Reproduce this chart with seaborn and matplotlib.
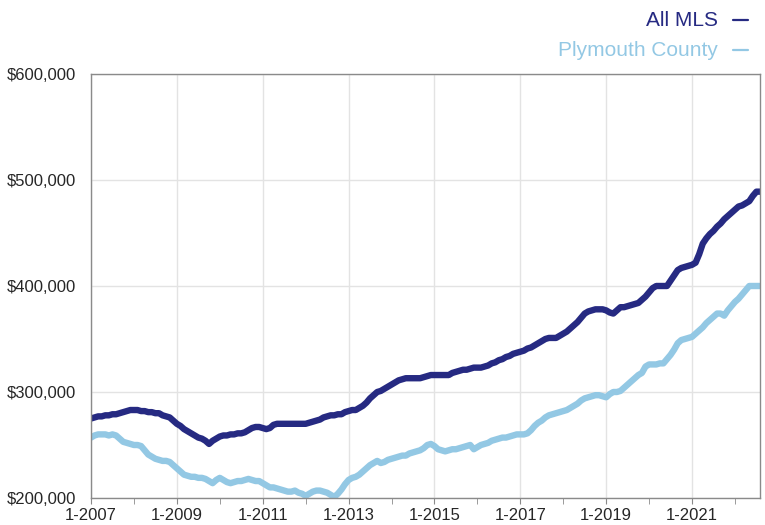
import numpy as np
import pandas as pd
import matplotlib
matplotlib.use("Agg")
import matplotlib.pyplot as plt
from matplotlib.lines import Line2D
import seaborn as sns

# Monthly median prices (thousands of $), Jan 2007 .. Aug 2022
all_mls = [275, 276, 277, 277, 278, 278, 279, 279, 280, 281, 282, 283, 283, 283, 282, 282, 281, 281, 280, 280,
           278, 277, 276, 273, 270, 268, 265, 263, 261, 259, 257, 256, 254, 251, 254, 256, 258, 259, 259, 260,
           260, 261, 261, 262, 264, 266, 267, 267, 266, 265, 266, 269, 270, 270, 270, 270, 270, 270, 270, 270,
           270, 271, 272, 273, 274, 276, 277, 278, 278, 279, 279, 281, 282, 283, 283, 285, 287, 290, 294, 297,
           300, 301, 303, 305, 307, 309, 311, 312, 313, 313, 313, 313, 313, 314, 315, 316, 316, 316, 316, 316,
           316, 318, 319, 320, 321, 321, 322, 323, 323, 323, 324, 325, 327, 328, 330, 331, 333, 334, 336, 337,
           338, 339, 341, 342, 344, 346, 348, 350, 351, 351, 351, 353, 355, 357, 360, 363, 366, 370, 374, 376,
           377, 378, 378, 378, 377, 375, 374, 377, 380, 380, 381, 382, 383, 384, 387, 390, 394, 398, 400, 400,
           400, 400, 405, 410, 415, 417, 418, 419, 420, 422, 430, 440, 445, 449, 452, 456, 459, 463, 466, 469,
           472, 475, 476, 478, 480, 485, 489, 489]
plymouth = [257, 259, 260, 260, 260, 259, 260, 259, 256, 253, 252, 251, 250, 250, 249, 245, 241, 239, 237, 236,
            235, 235, 234, 231, 228, 225, 222, 221, 220, 220, 219, 219, 218, 216, 214, 217, 219, 217, 215, 214,
            215, 216, 216, 217, 218, 217, 216, 216, 214, 212, 210, 210, 209, 208, 207, 206, 206, 207, 205, 204,
            202, 204, 206, 207, 207, 206, 205, 203, 201, 204, 208, 213, 217, 219, 220, 222, 225, 228, 231, 233,
            235, 233, 234, 236, 237, 238, 239, 240, 240, 242, 243, 244, 245, 247, 250, 251, 249, 246, 245, 244,
            245, 246, 246, 247, 248, 249, 250, 246, 248, 250, 251, 252, 254, 255, 256, 257, 257, 258, 259, 260,
            260, 260, 261, 264, 268, 271, 273, 276, 278, 279, 280, 281, 282, 283, 285, 287, 289, 292, 294, 295,
            296, 297, 297, 296, 295, 298, 300, 300, 301, 304, 307, 310, 313, 316, 318, 324, 326, 326, 326, 327,
            327, 331, 335, 340, 346, 349, 350, 351, 352, 355, 358, 361, 365, 368, 371, 374, 374, 372, 377, 381,
            385, 388, 392, 396, 400, 400, 400, 400]

series_names = ["All MLS", "Plymouth County"]
x_tick_labels = ["1-2007", "1-2009", "1-2011", "1-2013", "1-2015", "1-2017", "1-2019", "1-2021"]
y_ticks = [200000, 300000, 400000, 500000, 600000]
y_tick_labels = ["$200,000", "$300,000", "$400,000", "$500,000", "$600,000"]

colors = {"All MLS": "#262a82", "Plymouth County": "#93c8e4"}

n = len(all_mls)
df = pd.DataFrame({
    "month": list(range(n)) * 2,
    "price": [v * 1000 for v in all_mls] + [v * 1000 for v in plymouth],
    "series": [series_names[0]] * n + [series_names[1]] * n,
})

sns.set_style("white")
plt.rcParams["font.family"] = ["Liberation Sans", "DejaVu Sans"]

W, H = 765, 525
fig = plt.figure(figsize=(W / 100, H / 100), dpi=100)
ax = fig.add_axes([91 / W, 27 / H, 669 / W, 424 / H])

sns.lineplot(data=df, x="month", y="price", hue="series", palette=colors,
             hue_order=series_names[::-1], linewidth=4.6, ax=ax, legend=False,
             solid_capstyle="round", solid_joinstyle="round")

ax.set_xlim(0, n - 1)
ax.set_ylim(200000, 600000)
ax.set_xticks([24 * i for i in range(len(x_tick_labels))])
ax.set_xticklabels(x_tick_labels)
ax.set_xticks([12 + 24 * i for i in range(8)], minor=True)
ax.set_yticks(y_ticks)
ax.set_yticklabels(y_tick_labels)
ax.set_xlabel("")
ax.set_ylabel("")
ax.grid(True, which="major", color="#e3e3e3", linewidth=1.0)
ax.set_axisbelow(True)
for s in ax.spines.values():
    s.set_color("#8a8a8a")
    s.set_linewidth(1.0)
ax.tick_params(axis="x", which="both", direction="out", length=4.5, color="#8a8a8a",
               labelsize=12, pad=3, bottom=True)
ax.tick_params(axis="y", which="both", length=0, labelsize=12, pad=11)

legend_y = [1 - 20 / H, 1 - 50 / H]
for name, yy in zip(series_names, legend_y):
    fig.text(718 / W, yy, name, ha="right", va="center", color=colors[name], fontsize=15)
    fig.add_artist(Line2D([733 / W, 748 / W], [yy, yy], transform=fig.transFigure,
                          color=colors[name], linewidth=1.6))

fig.savefig("out.png", dpi=100)
